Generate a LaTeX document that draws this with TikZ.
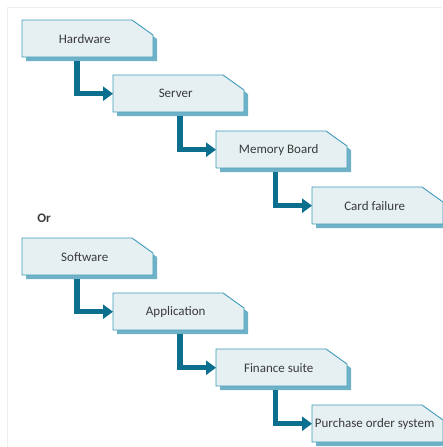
\documentclass[tikz,border=0pt]{standalone}
\usepackage{fontspec}
\setmainfont{Carlito}
\usetikzlibrary{arrows.meta,calc}
\definecolor{boxfill}{HTML}{E6F0F3}
\definecolor{boxline}{HTML}{3E9BB8}
\definecolor{shadowc}{HTML}{6FB2C8}
\definecolor{connc}{HTML}{0C6F8E}
\definecolor{textc}{HTML}{3A3A3A}
\definecolor{framec}{HTML}{EEEEEE}
\tikzset{
  boxnode/.style={minimum width=131pt, minimum height=37pt, inner sep=0pt, anchor=north west, draw=none},
  boxlabel/.style={font=\fontsize{13}{15}\selectfont, text=textc, xshift=-3pt},
  conn/.style={draw=connc, line width=5.5pt, -{Triangle[length=10pt,width=14pt]}},
}
\newcommand\cutbox[4]{%
  \fill[shadowc] (#2+4,#3+4) -- ++(110,0) -- ++(21,15) -- ++(0,22) -- ++(-131,0) -- cycle;
  \filldraw[fill=boxfill, draw=boxline, line width=0.9pt] (#2,#3) -- ++(110,0) -- ++(21,15) -- ++(0,22) -- ++(-131,0) -- cycle;
  \node[boxnode, label={[boxlabel]center:#4}] (#1) at (#2,#3) {};
}
\begin{document}
\begin{tikzpicture}[x=1pt,y=-1pt]
\useasboundingbox (0,0) rectangle (442,447);
\draw[framec, line width=0.8pt] (7.5,447) -- (7.5,7.5) -- (442,7.5);
\cutbox{hw}{22}{20}{Hardware}
\cutbox{sv}{113}{75}{Server}
\cutbox{mb}{216}{131}{Memory Board}
\cutbox{cf}{312}{187}{Card failure}
\node[font=\fontsize{13}{15}\selectfont\bfseries, text=textc] (or) at (44,218) {Or};
\cutbox{sw}{22}{238}{Software}
\cutbox{ap}{113}{293}{Application}
\cutbox{fs}{216}{349}{Finance suite}
\cutbox{po}{312}{405}{Purchase order system}
\draw[conn] (hw.south -| 77,0) ++(0,4) |- (sv.west);
\draw[conn] (sv.south -| 180,0) ++(0,4) |- (mb.west);
\draw[conn] (mb.south -| 275.5,0) ++(0,4) |- (cf.west);
\draw[conn] (sw.south -| 77,0) ++(0,4) |- (ap.west);
\draw[conn] (ap.south -| 180,0) ++(0,4) |- (fs.west);
\draw[conn] (fs.south -| 275.5,0) ++(0,4) |- (po.west);
\end{tikzpicture}
\end{document}
